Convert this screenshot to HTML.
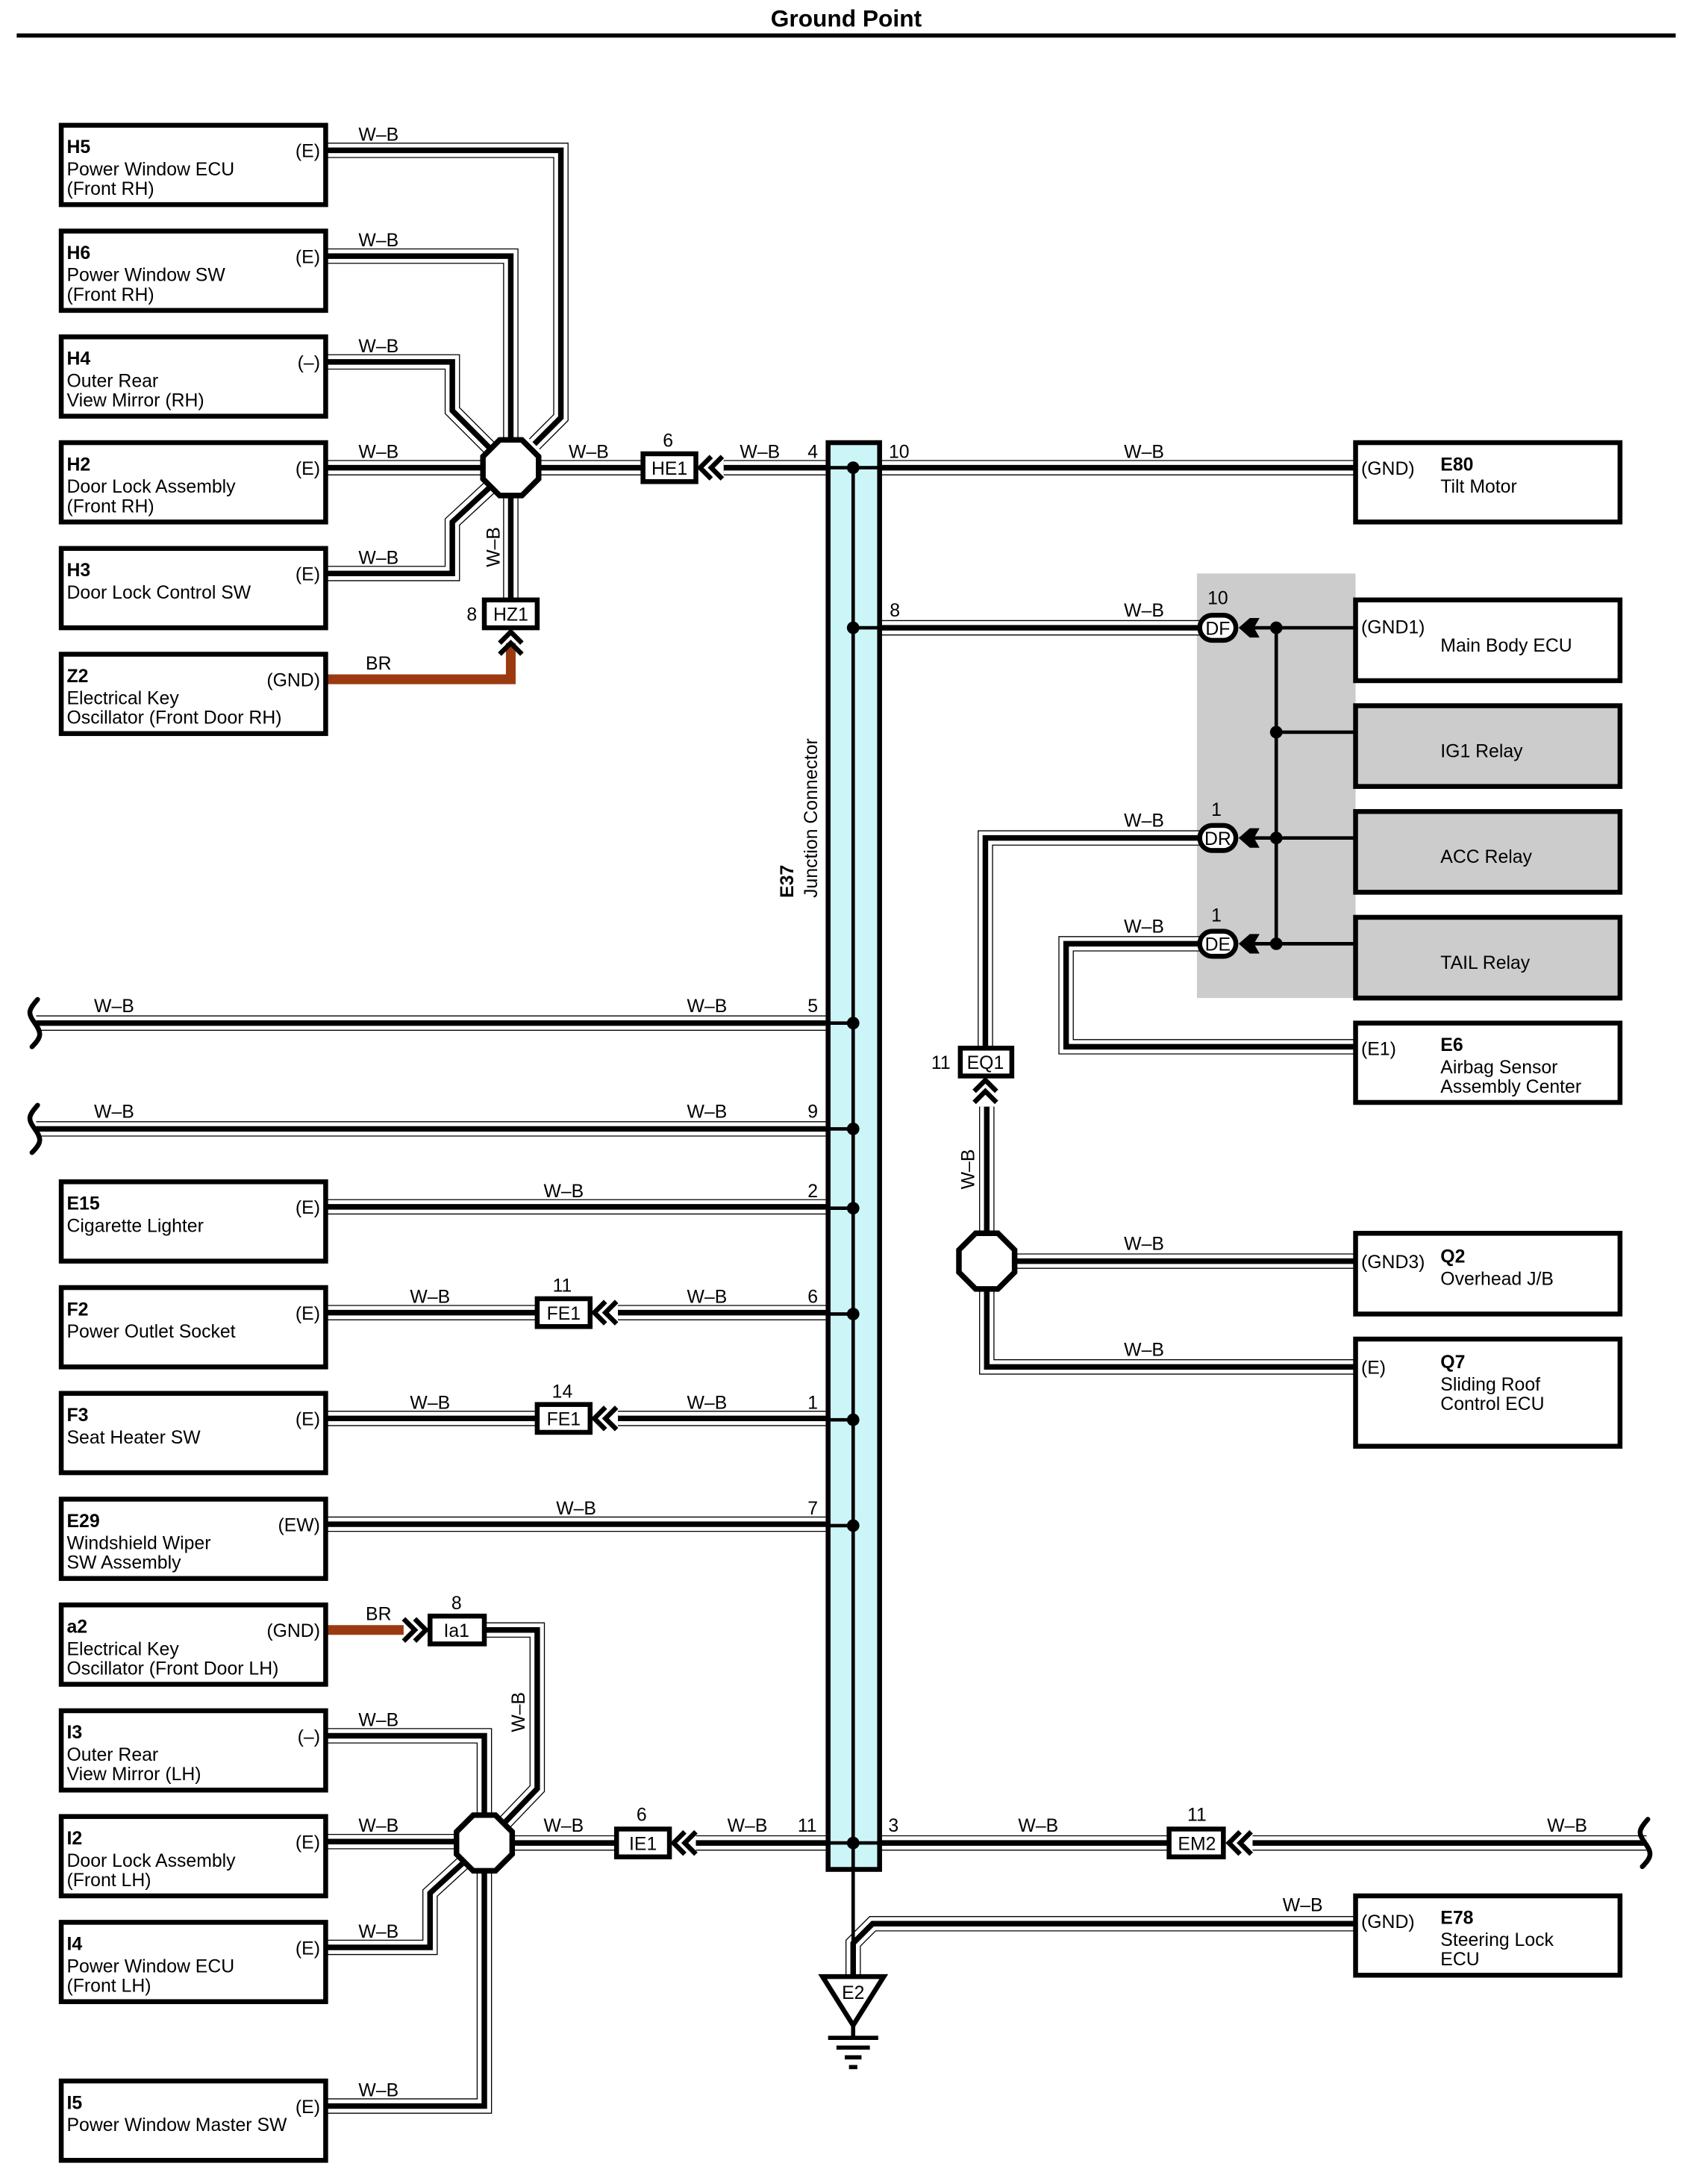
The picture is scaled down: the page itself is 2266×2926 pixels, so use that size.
<!DOCTYPE html>
<html><head><meta charset="utf-8">
<style>
html,body{margin:0;padding:0;background:#fff;}
svg{display:block;}
text{font-family:"Liberation Sans",Arial,sans-serif;font-size:13.3px;fill:#000;}
.b{font-weight:bold;}
.o use{stroke:#000;stroke-width:11;fill:none;}
.w use{stroke:#fff;stroke-width:9.6;fill:none;}
.k use{stroke:#000;stroke-width:4;fill:none;}
.box{fill:#fff;stroke:#000;stroke-width:3.5;}
.gbox{fill:#ccc;stroke:#000;stroke-width:3.5;}
.ch{fill:none;stroke:#000;stroke-width:3.5;}
</style></head><body>
<svg width="2266" height="2926" viewBox="0 0 1215 1569" preserveAspectRatio="none" xmlns="http://www.w3.org/2000/svg" xmlns:xlink="http://www.w3.org/1999/xlink">
<defs>
<path id="w1" d="M234 108H403V300L384 319"/>
<path id="w2" d="M234 184H367V316"/>
<path id="w3" d="M234 260H325V295L352 322"/>
<path id="w4" d="M234 336H347"/>
<path id="w5" d="M234 412H325V375L352 350"/>
<path id="w6" d="M367 356V430"/>
<path id="w7" d="M387 336H462"/>
<path id="w8" d="M520 336H595"/>
<path id="w9" d="M632 336H974"/>
<path id="w10" d="M632 451H862"/>
<path id="w11" d="M862 602H708V753"/>
<path id="w12" d="M862 678H766V752H974"/>
<path id="w13" d="M709 795V886"/>
<path id="w14" d="M729 906H974"/>
<path id="w15" d="M709 926V982H974"/>
<path id="w16" d="M26 735H595"/>
<path id="w17" d="M26 811H595"/>
<path id="w18" d="M234 867H595"/>
<path id="w19" d="M234 943H386"/>
<path id="w20" d="M444 943H595"/>
<path id="w21" d="M234 1019H386"/>
<path id="w22" d="M444 1019H595"/>
<path id="w23" d="M234 1095H595"/>
<path id="w24" d="M348 1171H386V1285L362 1310"/>
<path id="w25" d="M234 1247H348V1304"/>
<path id="w26" d="M234 1323H328"/>
<path id="w27" d="M234 1399H309V1360L333 1338"/>
<path id="w28" d="M234 1513H348V1344"/>
<path id="w29" d="M368 1324H443"/>
<path id="w30" d="M500 1324H595"/>
<path id="w31" d="M632 1324H840"/>
<path id="w32" d="M900 1324H1183"/>
<path id="w33" d="M974 1382H627L613 1396V1420"/>
</defs>

<text x="608" y="19" text-anchor="middle" class="b" style="font-size:17px">Ground Point</text>
<line x1="12" y1="25.5" x2="1204" y2="25.5" stroke="#000" stroke-width="3"/>

<rect x="860" y="412" width="114" height="305" fill="#ccc"/>

<g class="o"><use href="#w1"/><use href="#w2"/><use href="#w3"/><use href="#w4"/><use href="#w5"/><use href="#w6"/><use href="#w7"/><use href="#w8"/><use href="#w9"/><use href="#w10"/><use href="#w11"/><use href="#w12"/><use href="#w13"/><use href="#w14"/><use href="#w15"/><use href="#w16"/><use href="#w17"/><use href="#w18"/><use href="#w19"/><use href="#w20"/><use href="#w21"/><use href="#w22"/><use href="#w23"/><use href="#w24"/><use href="#w25"/><use href="#w26"/><use href="#w27"/><use href="#w28"/><use href="#w29"/><use href="#w30"/><use href="#w31"/><use href="#w32"/><use href="#w33"/></g>
<g class="w"><use href="#w1"/><use href="#w2"/><use href="#w3"/><use href="#w4"/><use href="#w5"/><use href="#w6"/><use href="#w7"/><use href="#w8"/><use href="#w9"/><use href="#w10"/><use href="#w11"/><use href="#w12"/><use href="#w13"/><use href="#w14"/><use href="#w15"/><use href="#w16"/><use href="#w17"/><use href="#w18"/><use href="#w19"/><use href="#w20"/><use href="#w21"/><use href="#w22"/><use href="#w23"/><use href="#w24"/><use href="#w25"/><use href="#w26"/><use href="#w27"/><use href="#w28"/><use href="#w29"/><use href="#w30"/><use href="#w31"/><use href="#w32"/><use href="#w33"/></g>
<g class="k"><use href="#w1"/><use href="#w2"/><use href="#w3"/><use href="#w4"/><use href="#w5"/><use href="#w6"/><use href="#w7"/><use href="#w8"/><use href="#w9"/><use href="#w10"/><use href="#w11"/><use href="#w12"/><use href="#w13"/><use href="#w14"/><use href="#w15"/><use href="#w16"/><use href="#w17"/><use href="#w18"/><use href="#w19"/><use href="#w20"/><use href="#w21"/><use href="#w22"/><use href="#w23"/><use href="#w24"/><use href="#w25"/><use href="#w26"/><use href="#w27"/><use href="#w28"/><use href="#w29"/><use href="#w30"/><use href="#w31"/><use href="#w32"/><use href="#w33"/></g>

<path d="M234 488H367V462" fill="none" stroke="#9b3a10" stroke-width="7"/>
<path d="M234 1171H290" fill="none" stroke="#9b3a10" stroke-width="7"/>

<path d="M27 718C20 726 20 728 25 735C30 742 30 745 23 752" fill="none" stroke="#000" stroke-width="3.5" stroke-linecap="round"/>
<path d="M27 794C20 802 20 804 25 811C30 818 30 821 23 828" fill="none" stroke="#000" stroke-width="3.5" stroke-linecap="round"/>
<path d="M1184 1307C1177 1315 1177 1317 1182 1324C1187 1331 1187 1334 1180 1341" fill="none" stroke="#000" stroke-width="3.5" stroke-linecap="round"/>

<rect x="595" y="318" width="37" height="1025" fill="#ccf5f8" stroke="#000" stroke-width="3.5"/>
<line x1="613" y1="336" x2="613" y2="1420" stroke="#000" stroke-width="2.5"/>
<g fill="#000">
<circle cx="613" cy="336" r="4.5"/><circle cx="613" cy="451" r="4.5"/><circle cx="613" cy="735" r="4.5"/><circle cx="613" cy="811" r="4.5"/><circle cx="613" cy="868" r="4.5"/><circle cx="613" cy="944" r="4.5"/><circle cx="613" cy="1020" r="4.5"/><circle cx="613" cy="1096" r="4.5"/><circle cx="613" cy="1324" r="4.5"/>
</g>
<text transform="translate(570,645) rotate(-90)" class="b">E37</text>
<text transform="translate(587,645) rotate(-90)">Junction Connector</text>
<g stroke="#000" stroke-width="2.5">
<line x1="595" y1="336" x2="632" y2="336"/><line x1="613" y1="451" x2="632" y2="451"/><line x1="595" y1="735" x2="613" y2="735"/><line x1="595" y1="811" x2="613" y2="811"/><line x1="595" y1="868" x2="613" y2="868"/><line x1="595" y1="944" x2="613" y2="944"/><line x1="595" y1="1020" x2="613" y2="1020"/><line x1="595" y1="1096" x2="613" y2="1096"/><line x1="595" y1="1324" x2="632" y2="1324"/>
</g>

<polygon points="591,1420 635,1420 613,1455" fill="#fff" stroke="#000" stroke-width="3.5" stroke-linejoin="miter"/>
<text x="613" y="1436" text-anchor="middle">E2</text>
<g stroke="#000" stroke-width="3">
<line x1="613" y1="1455" x2="613" y2="1464"/>
<line x1="595" y1="1464" x2="631" y2="1464"/>
<line x1="601" y1="1471" x2="625" y2="1471"/>
<line x1="607" y1="1478" x2="619" y2="1478"/>
<line x1="610" y1="1485" x2="616" y2="1485"/>
</g>

<polygon points="359,316 375,316 387,328 387,344 375,356 359,356 347,344 347,328" fill="#fff" stroke="#000" stroke-width="4"/>
<polygon points="701,886 717,886 729,898 729,914 717,926 701,926 689,914 689,898" fill="#fff" stroke="#000" stroke-width="4"/>
<polygon points="340,1304 356,1304 368,1316 368,1332 356,1344 340,1344 328,1332 328,1316" fill="#fff" stroke="#000" stroke-width="4"/>

<rect x="462" y="326" width="38" height="20" class="box"/><text x="481" y="341" text-anchor="middle">HE1</text>
<rect x="348" y="431" width="38" height="20" class="box"/><text x="367" y="446" text-anchor="middle">HZ1</text>
<rect x="690" y="753" width="37" height="20" class="box"/><text x="708" y="768" text-anchor="middle">EQ1</text>
<rect x="386" y="933" width="38" height="20" class="box"/><text x="405" y="948" text-anchor="middle">FE1</text>
<rect x="386" y="1009" width="38" height="20" class="box"/><text x="405" y="1024" text-anchor="middle">FE1</text>
<rect x="309" y="1161" width="39" height="20" class="box"/><text x="328" y="1176" text-anchor="middle">Ia1</text>
<rect x="443" y="1314" width="38" height="20" class="box"/><text x="462" y="1329" text-anchor="middle">IE1</text>
<rect x="840" y="1314" width="39" height="20" class="box"/><text x="860" y="1329" text-anchor="middle">EM2</text>
<rect x="862" y="442" width="26" height="18" rx="9" class="box"/><text x="875" y="456" text-anchor="middle">DF</text>
<rect x="862" y="593" width="26" height="18" rx="9" class="box"/><text x="875" y="607" text-anchor="middle">DR</text>
<rect x="862" y="669" width="26" height="18" rx="9" class="box"/><text x="875" y="683" text-anchor="middle">DE</text>

<g class="ch">
<path d="M511 328L503 336L511 344M519 328L511 336L519 344"/>
<path d="M492 1316L484 1324L492 1332M500 1316L492 1324L500 1332"/>
<path d="M891 1316L883 1324L891 1332M899 1316L891 1324L899 1332"/>
<path d="M435 935L427 943L435 951M443 935L435 943L443 951"/>
<path d="M435 1011L427 1019L435 1027M443 1011L435 1019L443 1027"/>
<path d="M290 1163L298 1171L290 1179M298 1163L306 1171L298 1179"/>
<path d="M359 462L367 454L375 462M359 470L367 462L375 470"/>
<path d="M700 784L708 776L716 784M700 792L708 784L716 792"/>
</g>
<g fill="#000">
<path d="M890 451L898 444L905 444L901 451L905 458L898 458Z"/>
<path d="M890 602L898 595L905 595L901 602L905 609L898 609Z"/>
<path d="M890 678L898 671L905 671L901 678L905 685L898 685Z"/>
</g>
<g stroke="#000" stroke-width="2.5">
<line x1="917" y1="451" x2="917" y2="678"/>
<line x1="900" y1="451" x2="974" y2="451"/>
<line x1="917" y1="526" x2="974" y2="526"/>
<line x1="900" y1="602" x2="974" y2="602"/>
<line x1="900" y1="678" x2="974" y2="678"/>
</g>
<g fill="#000"><circle cx="917" cy="451" r="4.5"/><circle cx="917" cy="526" r="4.5"/><circle cx="917" cy="602" r="4.5"/><circle cx="917" cy="678" r="4.5"/></g>

<g>
<rect x="44" y="90" width="190" height="57" class="box"/>
<rect x="44" y="166" width="190" height="57" class="box"/>
<rect x="44" y="242" width="190" height="57" class="box"/>
<rect x="44" y="318" width="190" height="57" class="box"/>
<rect x="44" y="394" width="190" height="57" class="box"/>
<rect x="44" y="470" width="190" height="57" class="box"/>
<rect x="44" y="849" width="190" height="57" class="box"/>
<rect x="44" y="925" width="190" height="57" class="box"/>
<rect x="44" y="1001" width="190" height="57" class="box"/>
<rect x="44" y="1077" width="190" height="57" class="box"/>
<rect x="44" y="1153" width="190" height="57" class="box"/>
<rect x="44" y="1229" width="190" height="57" class="box"/>
<rect x="44" y="1305" width="190" height="57" class="box"/>
<rect x="44" y="1381" width="190" height="57" class="box"/>
<rect x="44" y="1495" width="190" height="57" class="box"/>
</g>
<g>
<text x="48" y="110" class="b">H5</text><text x="48" y="126">Power Window ECU</text><text x="48" y="140">(Front RH)</text><text x="230" y="113" text-anchor="end">(E)</text>
<text x="48" y="186" class="b">H6</text><text x="48" y="202">Power Window SW</text><text x="48" y="216">(Front RH)</text><text x="230" y="189" text-anchor="end">(E)</text>
<text x="48" y="262" class="b">H4</text><text x="48" y="278">Outer Rear</text><text x="48" y="292">View Mirror (RH)</text><text x="230" y="265" text-anchor="end">(–)</text>
<text x="48" y="338" class="b">H2</text><text x="48" y="354">Door Lock Assembly</text><text x="48" y="368">(Front RH)</text><text x="230" y="341" text-anchor="end">(E)</text>
<text x="48" y="414" class="b">H3</text><text x="48" y="430">Door Lock Control SW</text><text x="230" y="417" text-anchor="end">(E)</text>
<text x="48" y="490" class="b">Z2</text><text x="48" y="506">Electrical Key</text><text x="48" y="520">Oscillator (Front Door RH)</text><text x="230" y="493" text-anchor="end">(GND)</text>
<text x="48" y="869" class="b">E15</text><text x="48" y="885">Cigarette Lighter</text><text x="230" y="872" text-anchor="end">(E)</text>
<text x="48" y="945" class="b">F2</text><text x="48" y="961">Power Outlet Socket</text><text x="230" y="948" text-anchor="end">(E)</text>
<text x="48" y="1021" class="b">F3</text><text x="48" y="1037">Seat Heater SW</text><text x="230" y="1024" text-anchor="end">(E)</text>
<text x="48" y="1097" class="b">E29</text><text x="48" y="1113">Windshield Wiper</text><text x="48" y="1127">SW Assembly</text><text x="230" y="1100" text-anchor="end">(EW)</text>
<text x="48" y="1173" class="b">a2</text><text x="48" y="1189">Electrical Key</text><text x="48" y="1203">Oscillator (Front Door LH)</text><text x="230" y="1176" text-anchor="end">(GND)</text>
<text x="48" y="1249" class="b">I3</text><text x="48" y="1265">Outer Rear</text><text x="48" y="1279">View Mirror (LH)</text><text x="230" y="1252" text-anchor="end">(–)</text>
<text x="48" y="1325" class="b">I2</text><text x="48" y="1341">Door Lock Assembly</text><text x="48" y="1355">(Front LH)</text><text x="230" y="1328" text-anchor="end">(E)</text>
<text x="48" y="1401" class="b">I4</text><text x="48" y="1417">Power Window ECU</text><text x="48" y="1431">(Front LH)</text><text x="230" y="1404" text-anchor="end">(E)</text>
<text x="48" y="1515" class="b">I5</text><text x="48" y="1531">Power Window Master SW</text><text x="230" y="1518" text-anchor="end">(E)</text>
</g>

<rect x="974" y="318" width="190" height="57" class="box"/>
<rect x="974" y="431" width="190" height="58" class="box"/>
<rect x="974" y="507" width="190" height="58" class="gbox"/>
<rect x="974" y="583" width="190" height="58" class="gbox"/>
<rect x="974" y="659" width="190" height="58" class="gbox"/>
<rect x="974" y="735" width="190" height="57" class="box"/>
<rect x="974" y="886" width="190" height="58" class="box"/>
<rect x="974" y="962" width="190" height="77" class="box"/>
<rect x="974" y="1362" width="190" height="57" class="box"/>
<text x="978" y="341">(GND)</text><text x="1035" y="338" class="b">E80</text><text x="1035" y="354">Tilt Motor</text>
<text x="978" y="455">(GND1)</text><text x="1035" y="468">Main Body ECU</text>
<text x="1035" y="544">IG1 Relay</text>
<text x="1035" y="620">ACC Relay</text>
<text x="1035" y="696">TAIL Relay</text>
<text x="978" y="758">(E1)</text><text x="1035" y="755" class="b">E6</text><text x="1035" y="771">Airbag Sensor</text><text x="1035" y="785">Assembly Center</text>
<text x="978" y="911">(GND3)</text><text x="1035" y="907" class="b">Q2</text><text x="1035" y="923">Overhead J/B</text>
<text x="978" y="987">(E)</text><text x="1035" y="983" class="b">Q7</text><text x="1035" y="999">Sliding Roof</text><text x="1035" y="1013">Control ECU</text>
<text x="978" y="1385">(GND)</text><text x="1035" y="1382" class="b">E78</text><text x="1035" y="1398">Steering Lock</text><text x="1035" y="1412">ECU</text>

<g text-anchor="middle">
<text x="272" y="101">W–B</text><text x="272" y="177">W–B</text><text x="272" y="253">W–B</text><text x="272" y="329">W–B</text><text x="272" y="405">W–B</text><text x="272" y="481">BR</text>
<text x="423" y="329">W–B</text><text x="480" y="321">6</text><text x="546" y="329">W–B</text><text x="584" y="329">4</text>
<text x="339" y="446">8</text>
<text x="646" y="329">10</text><text x="822" y="329">W–B</text>
<text x="643" y="443">8</text><text x="822" y="443">W–B</text><text x="875" y="434">10</text>
<text x="822" y="594">W–B</text><text x="874" y="586">1</text>
<text x="822" y="670">W–B</text><text x="874" y="662">1</text>
<text x="676" y="768">11</text>
<text x="822" y="898">W–B</text><text x="822" y="974">W–B</text>
<text x="82" y="727">W–B</text><text x="508" y="727">W–B</text><text x="584" y="727">5</text>
<text x="82" y="803">W–B</text><text x="508" y="803">W–B</text><text x="584" y="803">9</text>
<text x="405" y="860">W–B</text><text x="584" y="860">2</text>
<text x="309" y="936">W–B</text><text x="404" y="928">11</text><text x="508" y="936">W–B</text><text x="584" y="936">6</text>
<text x="309" y="1012">W–B</text><text x="404" y="1004">14</text><text x="508" y="1012">W–B</text><text x="584" y="1012">1</text>
<text x="414" y="1088">W–B</text><text x="584" y="1088">7</text>
<text x="272" y="1164">BR</text><text x="328" y="1156">8</text>
<text x="272" y="1240">W–B</text><text x="272" y="1316">W–B</text><text x="272" y="1392">W–B</text><text x="272" y="1506">W–B</text>
<text x="405" y="1316">W–B</text><text x="461" y="1308">6</text><text x="537" y="1316">W–B</text><text x="580" y="1316">11</text>
<text x="642" y="1316">3</text><text x="746" y="1316">W–B</text><text x="860" y="1308">11</text><text x="1126" y="1316">W–B</text>
<text x="936" y="1373">W–B</text>
<text transform="translate(359,393) rotate(-90)">W–B</text>
<text transform="translate(700,840) rotate(-90)">W–B</text>
<text transform="translate(377,1230) rotate(-90)">W–B</text>
</g>
</svg>
</body></html>
